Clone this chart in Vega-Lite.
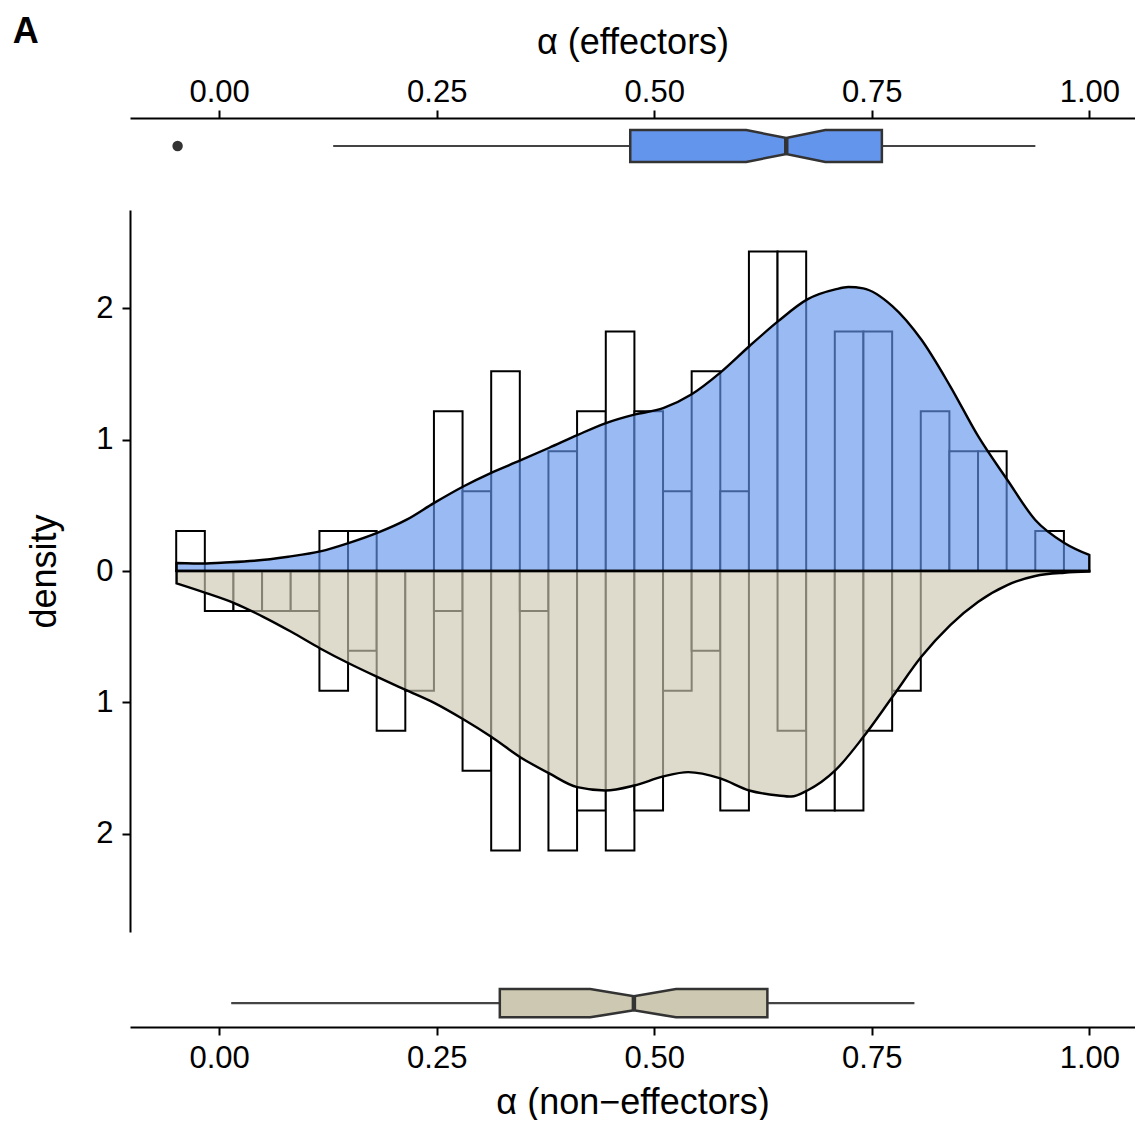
{
"$schema": "https://vega.github.io/schema/vega-lite/v6.json",
"background": "white",
"padding": {"left": 12, "top": 14, "right": 0, "bottom": 0},
"title": {"text": "A", "anchor": "start", "frame": "bounds", "fontSize": 36, "fontWeight": "bold", "font": "Liberation Sans", "color": "black", "dx": -14, "offset": -55, "baseline": "alphabetic"},
"config": {
  "font": "Liberation Sans",
  "view": {"stroke": null},
  "axis": {"grid": false, "domainColor": "black", "domainWidth": 2, "tickColor": "black", "tickWidth": 2, "tickSize": 8, "labelColor": "black", "labelFontSize": 31, "labelFont": "Liberation Sans", "titleFont": "Liberation Sans", "titleFontSize": 36, "titleFontWeight": "normal", "titleColor": "black"}
},
"spacing": 0,
"resolve": {"scale": {"x": "independent", "y": "independent"}},
"datasets": {
  "eff_stats": [{"group": "effectors", "whisker_lo": 0.131, "q1": 0.4724, "notch_lo": 0.6057, "median": 0.6517, "notch_hi": 0.6966, "q3": 0.7616, "whisker_hi": 0.938}],
  "eff_box": [
    {"stat": "q1", "x": 0.4724, "w": 1},
    {"stat": "notch_lo", "x": 0.6057, "w": 1},
    {"stat": "median", "x": 0.6517, "w": 0.5},
    {"stat": "notch_hi", "x": 0.6966, "w": 1},
    {"stat": "q3", "x": 0.7616, "w": 1}
  ],
  "eff_out": [{"x": -0.0478}],
  "non_stats": [{"group": "non-effectors", "whisker_lo": 0.0138, "q1": 0.3225, "notch_lo": 0.4264, "median": 0.4766, "notch_hi": 0.525, "q3": 0.63, "whisker_hi": 0.799}],
  "non_box": [
    {"stat": "q1", "x": 0.3225, "w": 1},
    {"stat": "notch_lo", "x": 0.4264, "w": 1},
    {"stat": "median", "x": 0.4766, "w": 0.5},
    {"stat": "notch_hi", "x": 0.525, "w": 1},
    {"stat": "q3", "x": 0.63, "w": 1}
  ],
  "eff_hist": [
    {"x0": -0.0494, "x1": -0.0165, "density": 0.304},
    {"x0": 0.1152, "x1": 0.1481, "density": 0.304},
    {"x0": 0.1481, "x1": 0.181, "density": 0.304},
    {"x0": 0.2468, "x1": 0.2797, "density": 1.217},
    {"x0": 0.2797, "x1": 0.3126, "density": 0.608},
    {"x0": 0.3126, "x1": 0.3455, "density": 1.521},
    {"x0": 0.3784, "x1": 0.4113, "density": 0.913},
    {"x0": 0.4113, "x1": 0.4443, "density": 1.217},
    {"x0": 0.4443, "x1": 0.4772, "density": 1.825},
    {"x0": 0.4772, "x1": 0.5101, "density": 1.217},
    {"x0": 0.5101, "x1": 0.543, "density": 0.608},
    {"x0": 0.543, "x1": 0.5759, "density": 1.521},
    {"x0": 0.5759, "x1": 0.6088, "density": 0.608},
    {"x0": 0.6088, "x1": 0.6417, "density": 2.434},
    {"x0": 0.6417, "x1": 0.6746, "density": 2.434},
    {"x0": 0.7075, "x1": 0.7404, "density": 1.825},
    {"x0": 0.7404, "x1": 0.7734, "density": 1.825},
    {"x0": 0.8063, "x1": 0.8392, "density": 1.217},
    {"x0": 0.8392, "x1": 0.8721, "density": 0.913},
    {"x0": 0.8721, "x1": 0.905, "density": 0.913},
    {"x0": 0.9379, "x1": 0.9708, "density": 0.304}
  ],
  "non_hist": [
    {"x0": -0.0165, "x1": 0.0164, "density": -0.304},
    {"x0": 0.0164, "x1": 0.0493, "density": -0.304},
    {"x0": 0.0493, "x1": 0.0822, "density": -0.304},
    {"x0": 0.0822, "x1": 0.1152, "density": -0.304},
    {"x0": 0.1152, "x1": 0.1481, "density": -0.913},
    {"x0": 0.1481, "x1": 0.181, "density": -0.608},
    {"x0": 0.181, "x1": 0.2139, "density": -1.217},
    {"x0": 0.2139, "x1": 0.2468, "density": -0.913},
    {"x0": 0.2468, "x1": 0.2797, "density": -0.304},
    {"x0": 0.2797, "x1": 0.3126, "density": -1.521},
    {"x0": 0.3126, "x1": 0.3455, "density": -2.129},
    {"x0": 0.3455, "x1": 0.3784, "density": -0.304},
    {"x0": 0.3784, "x1": 0.4113, "density": -2.129},
    {"x0": 0.4113, "x1": 0.4443, "density": -1.825},
    {"x0": 0.4443, "x1": 0.4772, "density": -2.129},
    {"x0": 0.4772, "x1": 0.5101, "density": -1.825},
    {"x0": 0.5101, "x1": 0.543, "density": -0.913},
    {"x0": 0.543, "x1": 0.5759, "density": -0.608},
    {"x0": 0.5759, "x1": 0.6088, "density": -1.825},
    {"x0": 0.6417, "x1": 0.6746, "density": -1.217},
    {"x0": 0.6746, "x1": 0.7075, "density": -1.825},
    {"x0": 0.7075, "x1": 0.7404, "density": -1.825},
    {"x0": 0.7404, "x1": 0.7734, "density": -1.217},
    {"x0": 0.7734, "x1": 0.8063, "density": -0.913}
  ],
  "eff_dens": [
    {"x": -0.049, "density": 0.061}, {"x": -0.0149, "density": 0.057}, {"x": 0.0023, "density": 0.063},
    {"x": 0.0402, "density": 0.078}, {"x": 0.0793, "density": 0.109}, {"x": 0.1161, "density": 0.149},
    {"x": 0.1494, "density": 0.214}, {"x": 0.1816, "density": 0.29}, {"x": 0.2149, "density": 0.389},
    {"x": 0.2471, "density": 0.519}, {"x": 0.2805, "density": 0.644}, {"x": 0.3126, "density": 0.748},
    {"x": 0.346, "density": 0.842}, {"x": 0.3793, "density": 0.939}, {"x": 0.4115, "density": 1.035},
    {"x": 0.4437, "density": 1.125}, {"x": 0.477, "density": 1.191}, {"x": 0.5103, "density": 1.24},
    {"x": 0.5425, "density": 1.344}, {"x": 0.5759, "density": 1.511}, {"x": 0.6092, "density": 1.712},
    {"x": 0.6425, "density": 1.903}, {"x": 0.6759, "density": 2.069}, {"x": 0.708, "density": 2.145},
    {"x": 0.723, "density": 2.163}, {"x": 0.7402, "density": 2.153}, {"x": 0.7736, "density": 2.018},
    {"x": 0.8069, "density": 1.763}, {"x": 0.8402, "density": 1.407}, {"x": 0.8724, "density": 1.025},
    {"x": 0.9057, "density": 0.695}, {"x": 0.9379, "density": 0.389}, {"x": 0.9713, "density": 0.214},
    {"x": 1.0, "density": 0.122}
  ],
  "non_dens": [
    {"x": -0.049, "density": -0.094}, {"x": -0.0149, "density": -0.168}, {"x": 0.0172, "density": -0.244},
    {"x": 0.0506, "density": -0.349}, {"x": 0.0828, "density": -0.463}, {"x": 0.1161, "density": -0.59},
    {"x": 0.1494, "density": -0.705}, {"x": 0.1816, "density": -0.807}, {"x": 0.2149, "density": -0.908},
    {"x": 0.2471, "density": -1.005}, {"x": 0.2805, "density": -1.13}, {"x": 0.3126, "density": -1.263},
    {"x": 0.346, "density": -1.418}, {"x": 0.3793, "density": -1.542}, {"x": 0.4115, "density": -1.647},
    {"x": 0.4437, "density": -1.672}, {"x": 0.477, "density": -1.634}, {"x": 0.5103, "density": -1.565},
    {"x": 0.5391, "density": -1.532}, {"x": 0.5759, "density": -1.58}, {"x": 0.6092, "density": -1.672},
    {"x": 0.6425, "density": -1.71}, {"x": 0.6575, "density": -1.718}, {"x": 0.6759, "density": -1.672},
    {"x": 0.708, "density": -1.519}, {"x": 0.7402, "density": -1.265}, {"x": 0.7736, "density": -0.96},
    {"x": 0.8069, "density": -0.654}, {"x": 0.8402, "density": -0.412}, {"x": 0.8724, "density": -0.234},
    {"x": 0.9057, "density": -0.107}, {"x": 0.9379, "density": -0.038}, {"x": 0.9713, "density": -0.013},
    {"x": 1.0, "density": -0.005}
  ]
},
"vconcat": [
  {
    "width": 1005, "height": 92,
    "layer": [
      {"data": {"name": "eff_stats"},
       "mark": {"type": "rule", "color": "#444444", "strokeWidth": 2.2},
       "encoding": {
         "x": {"field": "whisker_lo", "type": "quantitative", "title": "α (effectors)", "scale": {"domain": [-0.1025, 1.0525], "nice": false, "zero": false},
               "axis": {"orient": "top", "values": [0, 0.25, 0.5, 0.75, 1], "format": ".2f", "labelPadding": 2, "titlePadding": 15, "labelFlush": false}},
         "x2": {"field": "whisker_hi"},
         "y": {"datum": 0.5, "type": "quantitative", "scale": {"domain": [-1.5, 1.375], "nice": false, "zero": false}, "axis": null}
       }},
      {"data": {"name": "eff_box"},
       "mark": {"type": "area", "fill": "#6495ED", "stroke": "#333333", "strokeWidth": 2.5, "strokeJoin": "miter", "interpolate": "linear"},
       "encoding": {
         "x": {"field": "x", "type": "quantitative", "title": "α (effectors)", "scale": {"domain": [-0.1025, 1.0525], "nice": false, "zero": false}},
         "y": {"field": "w", "type": "quantitative", "stack": "center", "scale": {"domain": [-1.5, 1.375], "nice": false, "zero": false}, "axis": null}
       }},
      {"data": {"name": "eff_stats"},
       "mark": {"type": "rule", "color": "#333333", "strokeWidth": 4.5},
       "encoding": {
         "x": {"field": "median", "type": "quantitative", "title": "α (effectors)", "scale": {"domain": [-0.1025, 1.0525], "nice": false, "zero": false}},
         "y": {"datum": 0.25, "type": "quantitative", "scale": {"domain": [-1.5, 1.375], "nice": false, "zero": false}, "axis": null},
         "y2": {"datum": 0.75}
       }},
      {"data": {"name": "eff_out"},
       "mark": {"type": "point", "filled": true, "size": 110, "color": "#333333", "opacity": 1},
       "encoding": {
         "x": {"field": "x", "type": "quantitative", "title": "α (effectors)", "scale": {"domain": [-0.1025, 1.0525], "nice": false, "zero": false}},
         "y": {"datum": 0.5, "type": "quantitative", "scale": {"domain": [-1.5, 1.375], "nice": false, "zero": false}, "axis": null}
       }}
    ]
  },
  {
    "width": 1005, "height": 722,
    "layer": [
      {"data": {"name": "eff_hist"},
       "mark": {"type": "rect", "fill": "white", "stroke": "black", "strokeWidth": 2},
       "encoding": {
         "x": {"field": "x0", "type": "quantitative", "scale": {"domain": [-0.1025, 1.0525], "nice": false, "zero": false}, "axis": null},
         "x2": {"field": "x1"},
         "y": {"field": "density", "type": "quantitative", "title": "density", "scale": {"domain": [-2.75, 2.75], "nice": false, "zero": false},
               "axis": {"values": [-2, -1, 0, 1, 2], "labelExpr": "format(abs(datum.value), 'd')", "labelPadding": 9, "titlePadding": 32}},
         "y2": {"datum": 0}
       }},
      {"data": {"name": "non_hist"},
       "mark": {"type": "rect", "fill": "white", "stroke": "black", "strokeWidth": 2},
       "encoding": {
         "x": {"field": "x0", "type": "quantitative", "scale": {"domain": [-0.1025, 1.0525], "nice": false, "zero": false}, "axis": null},
         "x2": {"field": "x1"},
         "y": {"field": "density", "type": "quantitative", "title": "density", "scale": {"domain": [-2.75, 2.75], "nice": false, "zero": false}},
         "y2": {"datum": 0}
       }},
      {"data": {"name": "eff_dens"},
       "mark": {"type": "area", "fill": "#6495ED", "fillOpacity": 0.65, "stroke": "black", "strokeWidth": 2.4, "interpolate": "monotone"},
       "encoding": {
         "x": {"field": "x", "type": "quantitative", "scale": {"domain": [-0.1025, 1.0525], "nice": false, "zero": false}, "axis": null},
         "y": {"field": "density", "type": "quantitative", "title": "density", "stack": null, "scale": {"domain": [-2.75, 2.75], "nice": false, "zero": false}},
         "y2": {"datum": 0}
       }},
      {"data": {"name": "non_dens"},
       "mark": {"type": "area", "fill": "#CDC8B1", "fillOpacity": 0.65, "stroke": "black", "strokeWidth": 2.4, "interpolate": "monotone"},
       "encoding": {
         "x": {"field": "x", "type": "quantitative", "scale": {"domain": [-0.1025, 1.0525], "nice": false, "zero": false}, "axis": null},
         "y": {"field": "density", "type": "quantitative", "title": "density", "stack": null, "scale": {"domain": [-2.75, 2.75], "nice": false, "zero": false}},
         "y2": {"datum": 0}
       }}
    ]
  },
  {
    "width": 1005, "height": 95,
    "layer": [
      {"data": {"name": "non_stats"},
       "mark": {"type": "rule", "color": "#444444", "strokeWidth": 2.2},
       "encoding": {
         "x": {"field": "whisker_lo", "type": "quantitative", "title": "α (non−effectors)", "scale": {"domain": [-0.1025, 1.0525], "nice": false, "zero": false},
               "axis": {"orient": "bottom", "values": [0, 0.25, 0.5, 0.75, 1], "format": ".2f", "labelPadding": 8, "titlePadding": 12, "labelFlush": false}},
         "x2": {"field": "whisker_hi"},
         "y": {"datum": 0.5, "type": "quantitative", "scale": {"domain": [-0.341, 3.016], "nice": false, "zero": false}, "axis": null}
       }},
      {"data": {"name": "non_box"},
       "mark": {"type": "area", "fill": "#CDC8B1", "stroke": "#333333", "strokeWidth": 2.5, "strokeJoin": "miter", "interpolate": "linear"},
       "encoding": {
         "x": {"field": "x", "type": "quantitative", "title": "α (non−effectors)", "scale": {"domain": [-0.1025, 1.0525], "nice": false, "zero": false}},
         "y": {"field": "w", "type": "quantitative", "stack": "center", "scale": {"domain": [-0.341, 3.016], "nice": false, "zero": false}, "axis": null}
       }},
      {"data": {"name": "non_stats"},
       "mark": {"type": "rule", "color": "#333333", "strokeWidth": 4.5},
       "encoding": {
         "x": {"field": "median", "type": "quantitative", "title": "α (non−effectors)", "scale": {"domain": [-0.1025, 1.0525], "nice": false, "zero": false}},
         "y": {"datum": 0.25, "type": "quantitative", "scale": {"domain": [-0.341, 3.016], "nice": false, "zero": false}, "axis": null},
         "y2": {"datum": 0.75}
       }}
    ]
  }
]
}
